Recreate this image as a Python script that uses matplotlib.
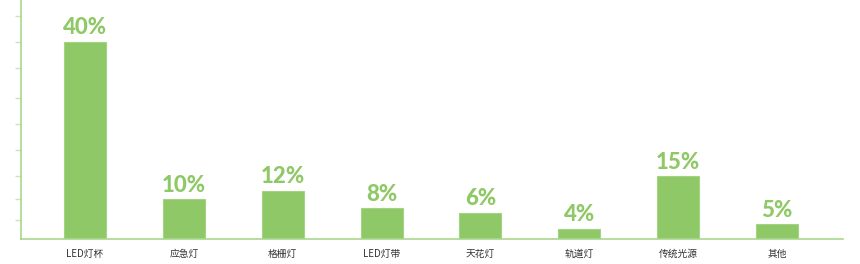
import matplotlib
matplotlib.use("Agg")
import matplotlib.pyplot as plt

categories = ["LED灯杯", "应急灯", "格栅灯", "LED灯带", "天花灯", "轨道灯", "传统光源", "其他"]
bar_values = [40, 8.1, 9.8, 6.2, 5.3, 2.1, 12.7, 3.0]
value_labels = ["40%", "10%", "12%", "8%", "6%", "4%", "15%", "5%"]
tick_positions = [3.9, 8.1, 12.7, 18.1, 23.4, 28.6, 34.8, 40.0, 45.3]

bar_color = "#8fc866"
axis_color = "#a9d78e"

plt.rcParams['font.family'] = ['Noto Sans CJK SC', 'DejaVu Sans']

fig = plt.figure(figsize=(8.6, 2.64), dpi=100)
ax = fig.add_axes([21/860, 25/264, 822/860, 239/264])

x = list(range(len(categories)))
ax.bar(x, bar_values, width=0.425, color=bar_color, edgecolor="#a4d383", linewidth=0.8)

for xi, v, lab in zip(x, bar_values, value_labels):
    ax.annotate(lab, (xi, v), xytext=(0, 2.5), textcoords="offset points",
                ha="center", va="bottom", color=bar_color, fontsize=16,
                fontweight="black", family=["Lato", "DejaVu Sans"])

ax.set_xlim(-0.647, 7.667)
ax.set_ylim(0, 48.5)
ax.set_xticks(x)
ax.set_xticklabels(categories, fontsize=7, color="#333333", fontweight="medium")
ax.tick_params(axis="x", length=0, pad=7)
ax.set_yticks(tick_positions)
ax.set_yticklabels([])
ax.tick_params(axis="y", length=4, width=1, color="#c9e6b7", direction="out")

for s in ["top", "right"]:
    ax.spines[s].set_visible(False)
for s in ["left", "bottom"]:
    ax.spines[s].set_color(axis_color)
    ax.spines[s].set_linewidth(1.2)

fig.savefig("out.png", dpi=100, facecolor="white")
